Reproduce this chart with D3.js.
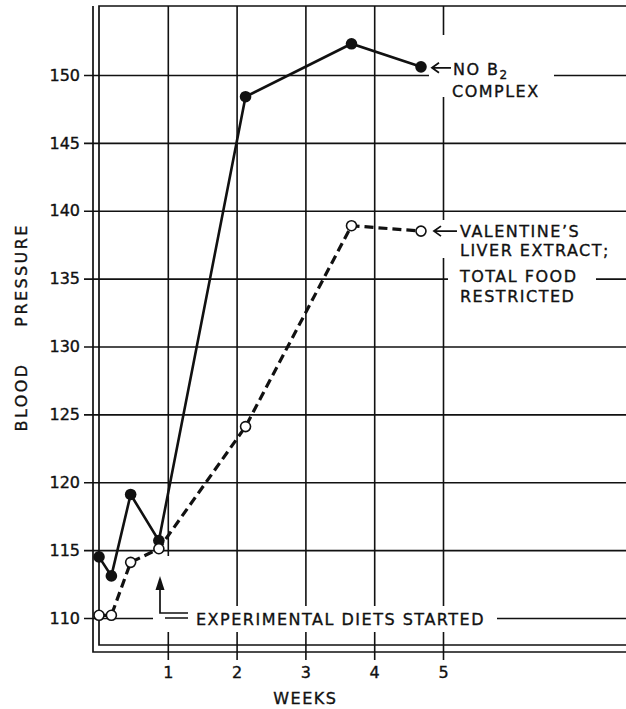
<!DOCTYPE html>
<html>
<head>
<meta charset="utf-8">
<script src="https://cdn.jsdelivr.net/npm/d3@7"></script>
<style>
body { margin: 0; background: #fff; }
svg text { font-family: "DejaVu Sans", sans-serif; fill: #111; stroke: #111; stroke-width: 0.35px; }
</style>
</head>
<body>
<div id="chart"></div>
<script>
// values
const weeks = [0, 0.18, 0.46, 0.87, 2.13, 3.67, 4.68];
const noB2 = [114.5, 113.1, 119.1, 115.7, 148.4, 152.3, 150.6];
const liverExtract = [110.2, 110.2, 114.1, 115.1, 124.1, 138.9, 138.5];
const xTicks = [1, 2, 3, 4, 5];
const yTicks = [110, 115, 120, 125, 130, 135, 140, 145, 150];

const W = 626, H = 709;
const ink = "#111";
const frame = { top: 6, left: 99, outerLeft: 93, bottom: 645, outerBottom: 652 };

const svg = d3.select("#chart").append("svg")
	.attr("width", W)
	.attr("height", H);

const x = d3.scaleLinear().domain([0, 5]).range([99, 443]);
const y = d3.scaleLinear().domain([110, 150]).range([618, 75]);

// horizontal grid + y labels
const yAxis = svg.append("g")
	.attr("transform", "translate(84,0)")
	.call(d3.axisLeft(y).tickValues(yTicks).tickSize(-(W - 84)).tickPadding(4));
yAxis.select(".domain").remove();
yAxis.selectAll("line").attr("stroke", ink).attr("stroke-width", 1.6);
yAxis.selectAll("text")
	.style("font-family", "DejaVu Sans")
	.style("font-size", "16px")
	.attr("fill", ink);

// vertical grid + week labels
const xAxis = svg.append("g")
	.attr("transform", `translate(0,${frame.top})`)
	.call(d3.axisBottom(x).tickValues(xTicks).tickFormat(d3.format("d"))
		.tickSize(660 - frame.top).tickPadding(7));
xAxis.select(".domain").remove();
xAxis.selectAll("line").attr("stroke", ink).attr("stroke-width", 1.6);
xAxis.selectAll("text")
	.style("font-family", "DejaVu Sans")
	.style("font-size", "16px")
	.attr("fill", ink);

// double frame
const frameG = svg.append("g").attr("fill", "none").attr("stroke", ink).attr("stroke-width", 1.7);
frameG.append("path").attr("d", `M${W},${frame.top}H${frame.left}V${frame.bottom}H${W}`);
frameG.append("path").attr("d", `M${frame.outerLeft},${frame.top}V${frame.outerBottom}H${W}`);

// white knock-outs behind the notes
const lastX = x(weeks[weeks.length - 1]);
const blanks = [
	[lastX + 8, 35, 125, 62],
	[lastX + 8, 220, 200, 38],
	[lastX + 27, 258, 148, 52],
	[153, 606, 344, 26],
	[162, 556, 10, 50]
];
svg.append("g").selectAll("rect").data(blanks).join("rect")
	.attr("x", d => d[0]).attr("y", d => d[1])
	.attr("width", d => d[2]).attr("height", d => d[3])
	.attr("fill", "#fff");

// series
const line = d3.line().x(d => x(d[0])).y(d => y(d[1]));
const solidPts = weeks.map((w, i) => [w, noB2[i]]);
const openPts = weeks.map((w, i) => [w, liverExtract[i]]);

svg.append("path").datum(openPts)
	.attr("d", line).attr("fill", "none")
	.attr("stroke", ink).attr("stroke-width", 3.2)
	.attr("stroke-dasharray", "9,5");
svg.append("path").datum(solidPts)
	.attr("d", line).attr("fill", "none")
	.attr("stroke", ink).attr("stroke-width", 2.6);

svg.append("g").selectAll("circle").data(solidPts).join("circle")
	.attr("cx", d => x(d[0])).attr("cy", d => y(d[1]))
	.attr("r", 5.8).attr("fill", ink);
svg.append("g").selectAll("circle").data(openPts).join("circle")
	.attr("cx", d => x(d[0])).attr("cy", d => y(d[1]))
	.attr("r", 5).attr("fill", "#fff")
	.attr("stroke", ink).attr("stroke-width", 1.6);

// notes
const noteStyle = sel => sel
	.style("font-family", "DejaVu Sans")
	.style("font-size", "16px")
	.style("letter-spacing", "1.5px")
	.attr("fill", ink);

function leftArrow(x0, x1, yy) {
	svg.append("path")
		.attr("d", `M${x1},${yy}H${x0 + 1}M${x0 + 7},${yy - 5}L${x0},${yy}L${x0 + 7},${yy + 5}`)
		.attr("fill", "none").attr("stroke", ink).attr("stroke-width", 1.8);
}

const yB2 = y(noB2[noB2.length - 1]);
leftArrow(lastX + 11, lastX + 30, yB2 + 1);
const t1 = svg.append("text").attr("x", lastX + 32).attr("y", yB2 + 8).call(noteStyle);
t1.append("tspan").text("NO B");
t1.append("tspan").text("2").attr("dy", 4).style("font-size", "12px");
svg.append("text").attr("x", lastX + 31).attr("y", yB2 + 30).text("COMPLEX").call(noteStyle);

const yLv = y(liverExtract[liverExtract.length - 1]);
leftArrow(lastX + 13, lastX + 36, yLv);
[["VALENTINE’S", 6], ["LIVER EXTRACT;", 25], ["TOTAL FOOD", 51], ["RESTRICTED", 71]].forEach(([s, dy]) => {
	svg.append("text").attr("x", lastX + 39).attr("y", yLv + dy).text(s).call(noteStyle);
});

// diets-started marker
const y110 = y(110);
svg.append("path")
	.attr("d", `M160,589V${y110 - 5}H188M165,${y110}H188`)
	.attr("fill", "none").attr("stroke", ink).attr("stroke-width", 1.7);
svg.append("path")
	.attr("d", "M160,576L155.5,590L164.5,590Z")
	.attr("fill", ink);
svg.append("text").attr("x", 196).attr("y", y110 + 7)
	.text("EXPERIMENTAL DIETS STARTED").call(noteStyle);

// axis titles
svg.append("text").attr("x", x(3)).attr("y", 704)
	.attr("text-anchor", "middle").text("WEEKS").call(noteStyle);
[["PRESSURE", 275], ["BLOOD", 397]].forEach(([s, cy]) => {
	svg.append("text")
		.attr("transform", `translate(27,${cy}) rotate(-90)`)
		.attr("text-anchor", "middle").text(s).call(noteStyle)
		.style("letter-spacing", "2.4px");
});
</script>
</body>
</html>
